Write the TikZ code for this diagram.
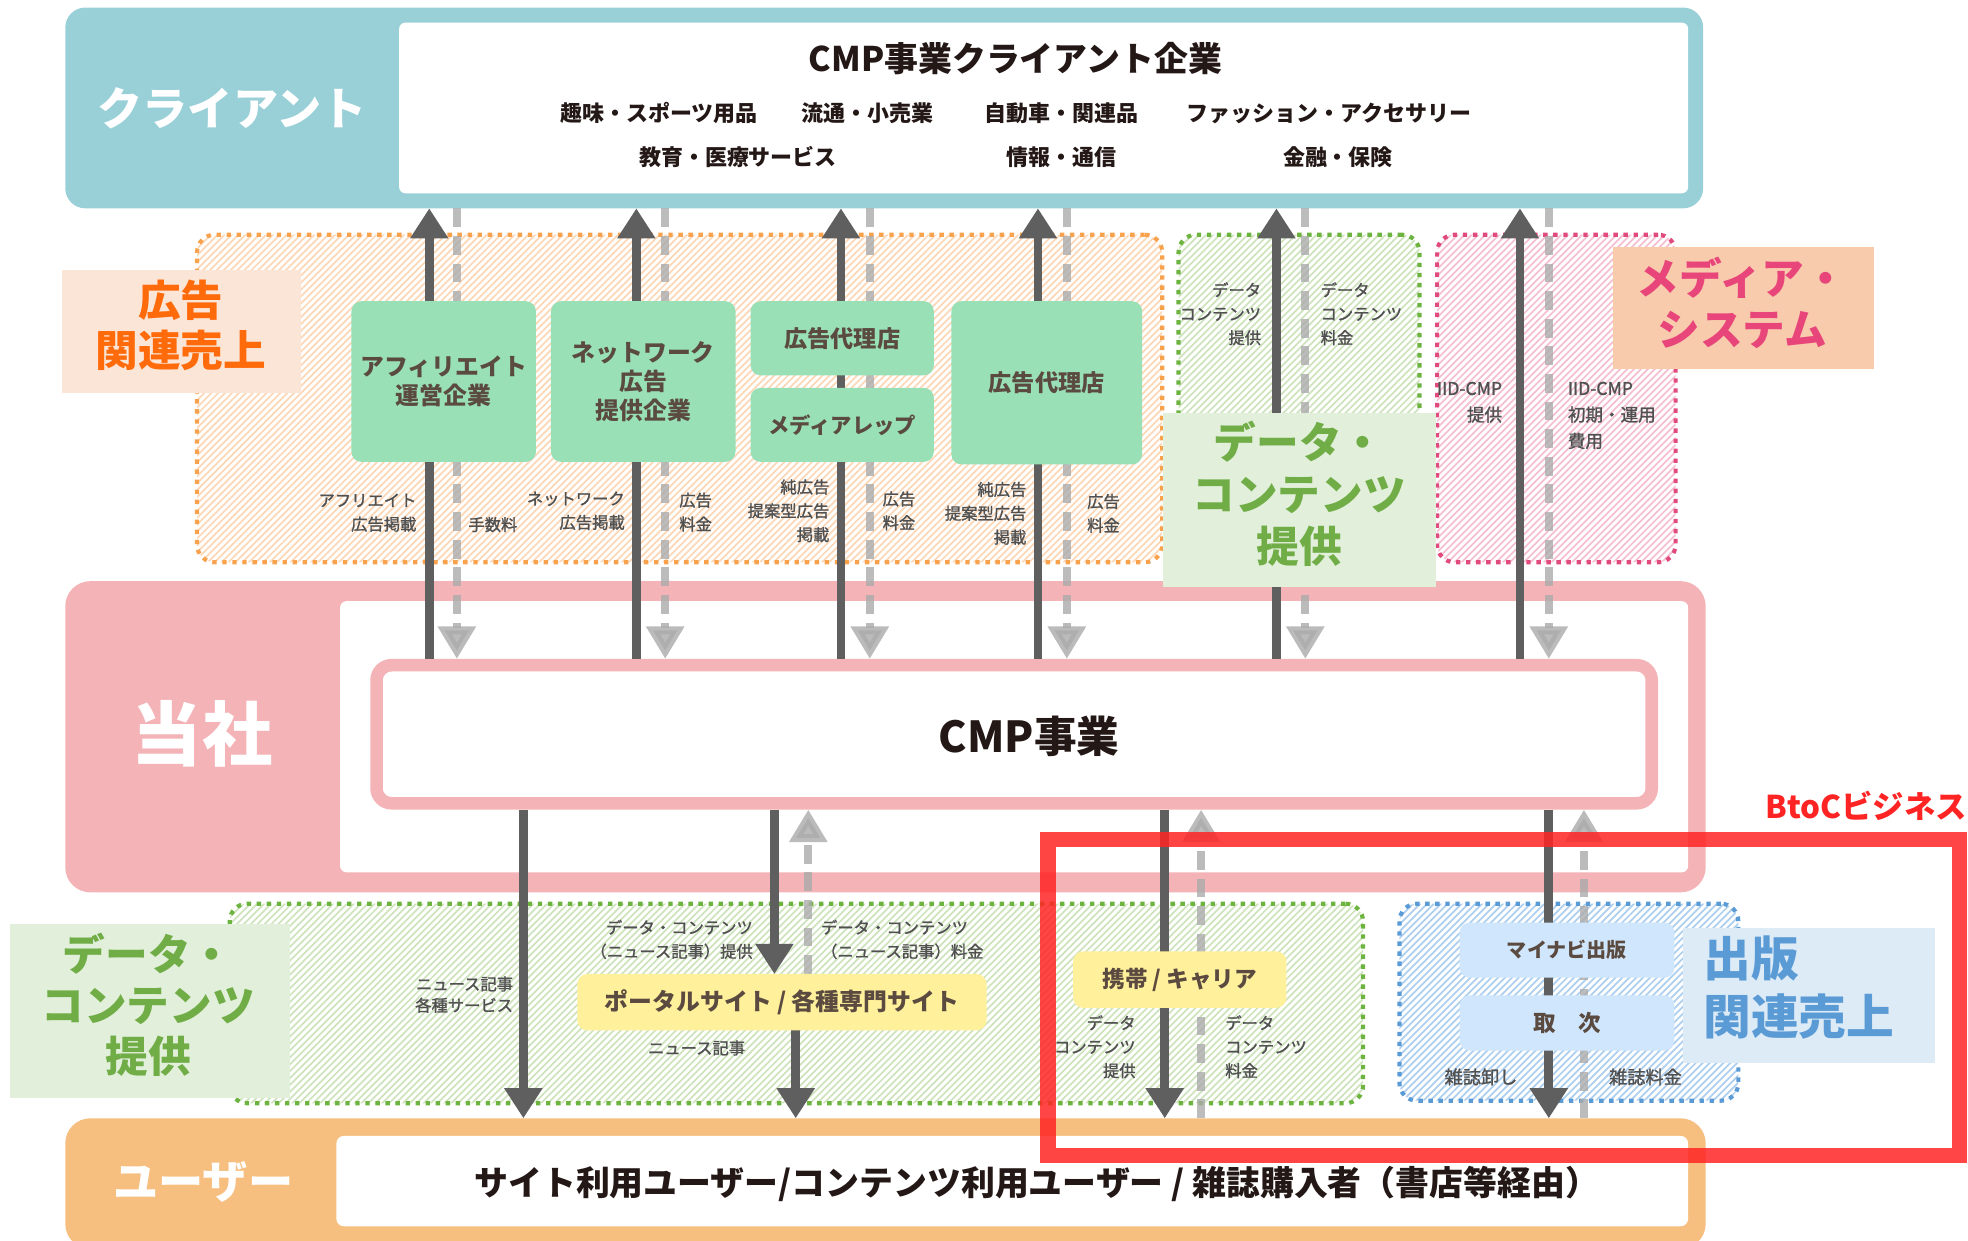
\documentclass[tikz,border=0pt]{standalone}
\usepackage{fontspec}
\setmainfont{Noto Sans CJK JP}
\newfontfamily\medfont[FakeBold=1.3]{Noto Sans CJK JP}
\usetikzlibrary{arrows.meta}
\definecolor{cteal}{HTML}{99D0D8}
\definecolor{cpink}{HTML}{F4B3B6}
\definecolor{corange}{HTML}{F7BF7F}
\definecolor{cmint}{HTML}{99E0B6}
\definecolor{cmtext}{HTML}{5A4A3F}
\definecolor{cdark}{HTML}{231815}
\definecolor{clbl}{HTML}{505050}
\definecolor{carrd}{HTML}{5F5F5F}
\definecolor{carrg}{HTML}{ABABAB}
\definecolor{cordot}{HTML}{F9A24E}
\definecolor{corhat}{HTML}{FCD8B8}
\definecolor{cgrdot}{HTML}{6CB33F}
\definecolor{cgrhat}{HTML}{CFE4BE}
\definecolor{cpkdot}{HTML}{E04A7C}
\definecolor{cpkhat}{HTML}{F5C0D2}
\definecolor{cbldot}{HTML}{5B9BD5}
\definecolor{cblhat}{HTML}{AFCFEE}
\definecolor{cpeach}{HTML}{FBE5D6}
\definecolor{cortext}{HTML}{FF6A0A}
\definecolor{cgrlab}{HTML}{E2EFDA}
\definecolor{cgrtext}{HTML}{70AD47}
\definecolor{cmedlab}{HTML}{F8CBAD}
\definecolor{cmedtext}{HTML}{E8457A}
\definecolor{cpublab}{HTML}{DDEBF7}
\definecolor{cpubtext}{HTML}{5B9BD5}
\definecolor{cyel}{HTML}{FFF09C}
\definecolor{clblue}{HTML}{CFE6FC}
\definecolor{cred}{HTML}{FF2424}
\newcommand{\fs}[2]{\fontsize{#1}{#2}\selectfont}
\newcommand{\hatchreg}[5]{%
  \begin{scope}
    \clip[rounded corners=14pt] (#1,#2) rectangle (#3,#4);
    \pgfmathsetmacro{\hA}{#1+#2}%
    \pgfmathsetmacro{\hB}{#1+#2+5.5}%
    \pgfmathsetmacro{\hC}{#3+#4}%
    \foreach \s in {\hA,\hB,...,\hC}{\draw[#5,line width=1.4pt] (\s,0) -- ++(-1000,1000);}
  \end{scope}}
\pgfdeclarelayer{bg}
\pgfdeclarelayer{arr}
\pgfsetlayers{bg,arr,main}
\begin{document}
\begin{tikzpicture}[x=1pt,y=-1pt,
  box/.style={inner sep=0pt, outer sep=0pt},
  rbox/.style={box, rounded corners=#1},
  dotreg/.style={box, draw=#1, line width=3.3pt, dash pattern=on 3.5pt off 4.5pt, rounded corners=14pt},
  darr/.style={draw=carrd, line width=7pt, -{Triangle[length=24pt,width=29pt]}},
  garr/.style={draw=carrg, opacity=.8, line width=6.5pt, dash pattern=on 15pt off 7pt, -{Triangle[length=26pt,width=29pt]}},
  lbl/.style={inner sep=0pt, text=clbl, font=\medfont\fs{13}{19}},
  ttl/.style={inner sep=0pt, text=cdark, font=\bfseries\fs{17.5}{20}},
  gbox/.style={rbox=8pt, fill=cmint, text=cmtext, align=center},
  ybox/.style={rbox=8pt, fill=cyel, text=cmtext, align=center},
  bbox/.style={rbox=8pt, fill=clblue, text=cmtext, align=center},
  bigt/.style={inner sep=0pt, align=center, font=\bfseries\fs{34}{40}}
]
\useasboundingbox (0,0) rectangle (1568,988);

\begin{pgfonlayer}{bg}
% client
\node[rbox=16pt, fill=cteal, minimum width=1305pt, minimum height=160pt] (clientout) at (704.5,86) {};
\node[rbox=5pt, fill=white, minimum width=1027pt, minimum height=136pt] (clientin) at (831.5,86) {};
% tosha
\node[rbox=20pt, fill=cpink, minimum width=1307pt, minimum height=248pt] (toshaout) at (705.5,587) {};
\node[rbox=5pt, fill=white, minimum width=1074pt, minimum height=216pt] (toshain) at (808,587) {};
\node[rbox=12pt, draw=cpink, line width=10pt, fill=white, minimum width=1016pt, minimum height=110pt, outer sep=5pt] (cmp) at (808,585) {};
% user
\node[rbox=20pt, fill=corange, minimum width=1307pt, minimum height=104pt] (userout) at (705.5,943) {};
\node[rbox=6pt, fill=white, minimum width=1077pt, minimum height=72pt] (userin) at (806.5,941) {};
% regions
\hatchreg{157}{187}{926}{448}{corhat}
\node[dotreg=cordot, minimum width=769pt, minimum height=261pt] (adreg) at (541.5,317.5) {};
\hatchreg{939}{187}{1131}{448}{cgrhat}
\node[dotreg=cgrdot, minimum width=192pt, minimum height=261pt] (dtreg) at (1035,317.5) {};
\hatchreg{1145}{187}{1335}{448}{cpkhat}
\node[dotreg=cpkdot, minimum width=190pt, minimum height=261pt] (mdreg) at (1240,317.5) {};
\hatchreg{183}{720}{1086}{879}{cgrhat}
\node[dotreg=cgrdot, minimum width=903pt, minimum height=159pt] (dbreg) at (634.5,799.5) {};
\hatchreg{1115}{720}{1385}{877}{cblhat}
\node[dotreg=cbldot, minimum width=270pt, minimum height=157pt] (pbreg) at (1250,798.5) {};
\end{pgfonlayer}

% texts in big boxes
\node[inner sep=0pt, text=white, font=\bfseries\fs{36}{40}] (clientlbl) at (185,86) {クライアント};
\node[inner sep=0pt, text=cdark, font=\bfseries\fs{27}{32}] (cltitle) at (809,47) {CMP事業クライアント企業};
\node[ttl] (ind1) at (525,90) {趣味・スポーツ用品};
\node[ttl] (ind2) at (691,90) {流通・小売業};
\node[ttl] (ind3) at (846,90) {自動車・関連品};
\node[ttl] (ind4) at (1059,90) {ファッション・アクセサリー};
\node[ttl] (ind5) at (588,125) {教育・医療サービス};
\node[ttl] (ind6) at (846,125) {情報・通信};
\node[ttl] (ind7) at (1066,125) {金融・保険};
\node[inner sep=0pt, text=white, font=\bfseries\fs{56}{60}] (toshalbl) at (161,585) {当社};
\node[inner sep=0pt, text=cdark, font=\bfseries\fs{34}{38}] (cmptxt) at (820,587) {CMP事業};
\node[inner sep=0pt, text=white, font=\bfseries\fs{36}{40}] (userlbl) at (162,942) {ユーザー};
\node[inner sep=0pt, text=cdark, font=\bfseries\fs{27}{30}] (usertxt) at (826,943) {サイト利用ユーザー/コンテンツ利用ユーザー / 雑誌購入者（書店等経由）};

% boxes on main layer
\node[gbox, minimum width=147pt, minimum height=128pt, font=\bfseries\fs{19}{23}] (aff) at (353.5,304) {アフィリエイト\\運営企業};
\node[gbox, minimum width=147pt, minimum height=128pt, font=\bfseries\fs{19}{23}] (net) at (512.5,304) {ネットワーク\\広告\\提供企業};
\node[gbox, minimum width=146pt, minimum height=59pt, font=\bfseries\fs{18.5}{22}] (agc1) at (671,269.5) {広告代理店};
\node[gbox, minimum width=146pt, minimum height=59pt, font=\bfseries\fs{17}{22}] (mrep) at (671,338.5) {メディアレップ};
\node[gbox, minimum width=152pt, minimum height=130pt, font=\bfseries\fs{18.5}{22}] (agc2) at (834,305) {広告代理店};
\node[ybox, minimum width=326pt, minimum height=45pt, font=\bfseries\fs{19}{22}] (portal) at (623,798.5) {ポータルサイト / 各種専門サイト};
\node[ybox, minimum width=170pt, minimum height=45pt, font=\bfseries\fs{18}{22}] (carrier) at (940,780.5) {携帯 / キャリア};
\node[bbox, minimum width=171pt, minimum height=44pt, font=\bfseries\fs{16}{20}] (mynavi) at (1248.5,757) {マイナビ出版};
\node[bbox, minimum width=171pt, minimum height=44pt, font=\bfseries\fs{18}{22}] (tori) at (1248.5,815) {取　次};

% arrows
\begin{pgfonlayer}{arr}
\foreach \n/\x in {1/342,2/507,3/670,4/827,5/1017,6/1211} \coordinate (d\n) at (\x,0);
\foreach \n/\x in {1/364,2/530,3/693,4/850,5/1040,6/1234} \coordinate (g\n) at (\x,0);
\foreach \n in {1,...,6}{
  \draw[darr] (cmp.north -| d\n) -- (clientout.south -| d\n);
  \draw[garr] (clientout.south -| g\n) -- (cmp.north -| g\n);
}
\foreach \n/\x in {1/417,2/617,3/644,4/634,5/928,6/957,7/1234,8/1262} \coordinate (b\n) at (\x,0);
\draw[darr] (cmp.south -| b1) -- (userout.north -| b1);
\draw[darr] (cmp.south -| b2) -- (portal.north -| b2);
\draw[garr] (portal.north -| b3) -- (cmp.south -| b3);
\draw[darr] (portal.south -| b4) -- (userout.north -| b4);
\draw[darr] (cmp.south -| b5) -- (userout.north -| b5);
\draw[garr] (userout.north -| b6) -- (cmp.south -| b6);
\draw[darr] (cmp.south -| b7) -- (userout.north -| b7);
\draw[garr] (userout.north -| b8) -- (cmp.south -| b8);
\end{pgfonlayer}

% small labels
\node[lbl, anchor=east, align=right] (l1) at (332,408.5) {アフリエイト\\広告掲載};
\node[lbl, anchor=west] (l2) at (373,418) {手数料};
\node[lbl, anchor=east, align=right] (l3) at (498,407) {ネットワーク\\広告掲載};
\node[lbl, anchor=west, align=left] (l4) at (541,408) {広告\\料金};
\node[lbl, anchor=east, align=right] (l5) at (661,407) {純広告\\提案型広告\\掲載};
\node[lbl, anchor=west, align=left] (l6) at (703,407) {広告\\料金};
\node[lbl, anchor=east, align=right] (l7) at (818,409) {純広告\\提案型広告\\掲載};
\node[lbl, anchor=west, align=left] (l8) at (866,409) {広告\\料金};
\node[lbl, anchor=east, align=right] (l9) at (1005,250) {データ\\コンテンツ\\提供};
\node[lbl, anchor=west, align=left] (l10) at (1052,250) {データ\\コンテンツ\\料金};
\node[lbl, anchor=east, align=right, font=\medfont\fs{14}{21}] (l11) at (1197,320.5) {IID-CMP\\提供};
\node[lbl, anchor=west, align=left, font=\medfont\fs{14}{21}] (l12) at (1249,331) {IID-CMP\\初期・運用\\費用};
\node[lbl, anchor=east, align=right, font=\medfont\fs{13}{17}] (l13) at (409,792.5) {ニュース記事\\各種サービス};
\node[lbl, anchor=east, align=right] (l14) at (600,748.5) {データ・コンテンツ\\（ニュース記事）提供};
\node[lbl, anchor=west, align=left] (l15) at (654,748.5) {データ・コンテンツ\\（ニュース記事）料金};
\node[lbl] (l16) at (555,835) {ニュース記事};
\node[lbl, anchor=east, align=right] (l17) at (905,834) {データ\\コンテンツ\\提供};
\node[lbl, anchor=west, align=left] (l18) at (976,834) {データ\\コンテンツ\\料金};
\node[lbl, font=\medfont\fs{14.5}{18}] (l19) at (1180,858) {雑誌卸し};
\node[lbl, font=\medfont\fs{14.5}{18}] (l20) at (1311,858) {雑誌料金};

% category label boxes
\node[box, fill=cpeach, minimum width=191pt, minimum height=98pt] (adlab) at (144.5,264) {};
\node[bigt, text=cortext] (adlabt) at (144,259) {広告\\関連売上};
\node[box, fill=cgrlab, minimum width=217pt, minimum height=139pt] (dtlab) at (1035.5,398.5) {};
\node[bigt, text=cgrtext, font=\bfseries\fs{34}{41.5}] (dtlabt) at (1035,393.5) {データ・\\コンテンツ\\提供};
\node[box, fill=cmedlab, minimum width=208pt, minimum height=97pt] (mdlab) at (1389,245.5) {};
\node[bigt, text=cmedtext, font=\bfseries\fs{34}{41}] (mdlabt) at (1388,241.5) {メディア・\\システム};
\node[box, fill=cgrlab, minimum width=223pt, minimum height=139pt] (dblab) at (119.5,805.5) {};
\node[bigt, text=cgrtext, font=\bfseries\fs{34}{40.5}] (dblabt) at (118,800.5) {データ・\\コンテンツ\\提供};
\node[box, fill=cpublab, minimum width=201pt, minimum height=108pt] (pblab) at (1441.5,793) {};
\node[bigt, text=cpubtext, align=left, anchor=west, font=\bfseries\fs{38}{46}] (pblabt) at (1357,787) {出版\\関連売上};

% BtoC frame
\node[box, draw=cred, line width=12pt, opacity=.85, minimum width=726pt, minimum height=252pt] (btoc) at (1198,795) {};
\node[inner sep=0pt, text=cred, font=\bfseries\fs{25}{28}] (btoct) at (1487,642) {BtoCビジネス};
\end{tikzpicture}
\end{document}
